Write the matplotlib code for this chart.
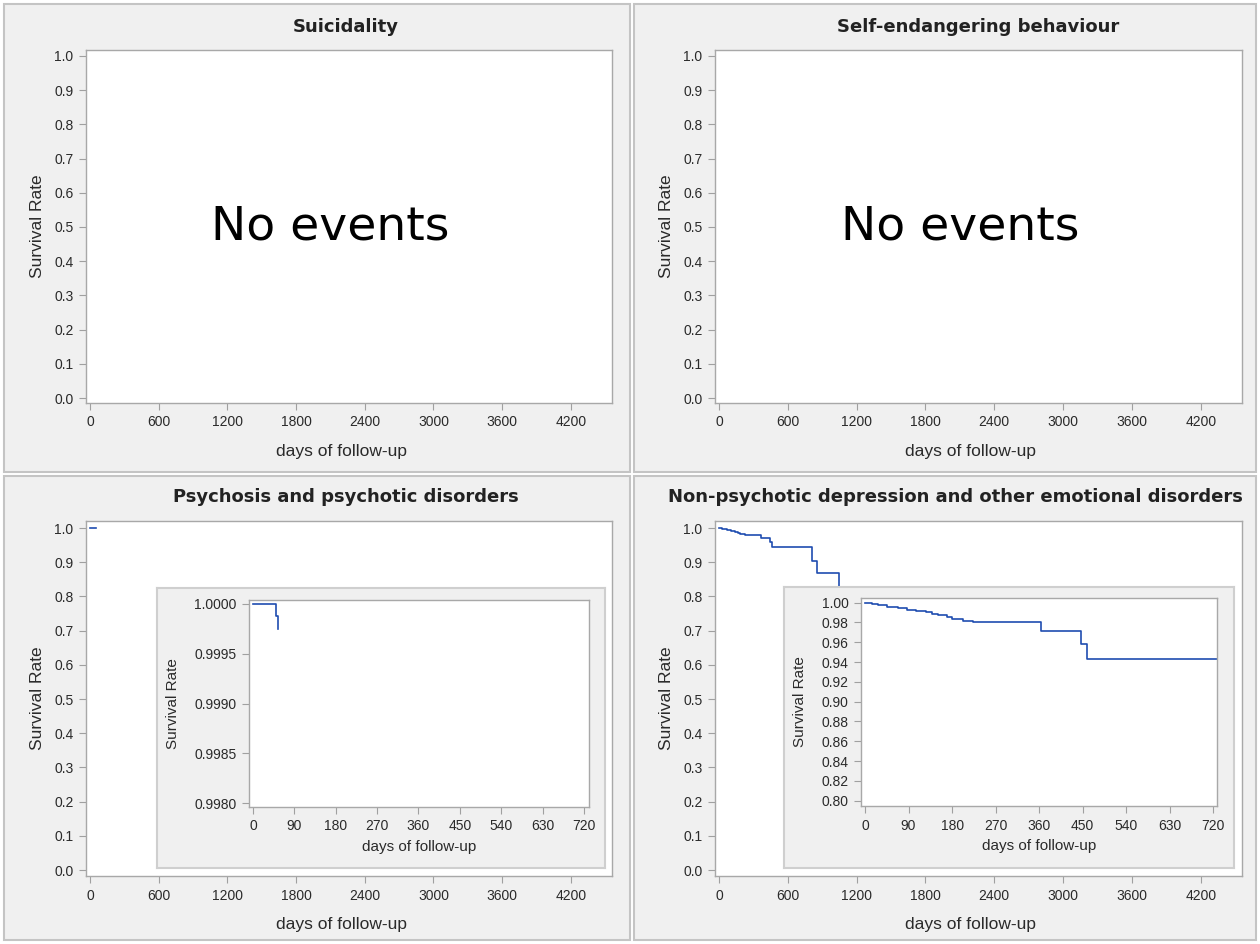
import numpy as np
import matplotlib
matplotlib.use("Agg")
import matplotlib.pyplot as plt
from matplotlib.patches import Rectangle

# Kaplan-Meier estimates per outcome (days of follow-up, survival rate)
psych_days = [0, 51, 55]
psych_surv = [1.0, 0.99988, 0.99975]

dep_days = [0, 14, 26, 46, 69, 86, 105, 127, 138, 150, 169, 179, 203, 224,
            363, 447, 459, 812, 856, 1048]
dep_surv = [1.0, 0.99865, 0.9973, 0.9960, 0.9943, 0.9929, 0.9916, 0.9902,
            0.9889, 0.9875, 0.9859, 0.9832, 0.9815, 0.9801, 0.9717, 0.958,
            0.9431, 0.9035, 0.868, 0.80]

titles = ["Suicidality", "Self-endangering behaviour",
          "Psychosis and psychotic disorders",
          "Non-psychotic depression and other emotional disorders"]

main_xticks = [0, 600, 1200, 1800, 2400, 3000, 3600, 4200]
main_yticks = [0.0, 0.1, 0.2, 0.3, 0.4, 0.5, 0.6, 0.7, 0.8, 0.9, 1.0]
inset_xticks = [0, 90, 180, 270, 360, 450, 540, 630, 720]
psych_yticks = [0.9980, 0.9985, 0.9990, 0.9995, 1.0000]
dep_yticks = [0.80, 0.82, 0.84, 0.86, 0.88, 0.90, 0.92, 0.94, 0.96, 0.98, 1.00]

W, H = 1260, 944
BG = "#f0f0f0"
LINE = "#1f4db0"
TICKFONT = "Liberation Sans"
TXT = "#2a2a2a"

fig = plt.figure(figsize=(W / 100, H / 100), dpi=100)
fig.patch.set_facecolor("white")


def px_rect(x0, y0, x1, y1):
    return [x0 / W, 1 - y1 / H, (x1 - x0) / W, (y1 - y0) / H]


def style_axes(ax, xticks, yticks, yfmt, fs=10):
    for s in ax.spines.values():
        s.set_color("#a8a8a8")
        s.set_linewidth(1.0)
    ax.set_xticks(xticks)
    ax.set_yticks(yticks)
    ax.set_yticklabels([yfmt.format(v) for v in yticks])
    ax.tick_params(direction="out", length=5, width=0.8, color="#a0a0a0",
                   labelcolor=TXT, labelsize=fs, pad=4)
    for lab in ax.get_xticklabels() + ax.get_yticklabels():
        lab.set_fontfamily(TICKFONT)


# panel backgrounds
panels = [(4, 4, 630, 472), (634, 4, 1256, 472),
          (4, 476, 630, 940), (634, 476, 1256, 940)]
for x0, y0, x1, y1 in panels:
    r = px_rect(x0, y0, x1, y1)
    fig.patches.append(Rectangle((r[0], r[1]), r[2], r[3], transform=fig.transFigure,
                                 facecolor=BG, edgecolor="#c4c4c4", lw=1.5, zorder=-1))

boxes = [(86, 50, 612, 403), (715, 50, 1242, 403),
         (86, 521, 612, 876), (715, 521, 1242, 876)]
title_x = [346, 978, 346, 955]

axes = []
for i, (x0, y0, x1, y1) in enumerate(boxes):
    ax = fig.add_axes(px_rect(x0, y0, x1, y1))
    ax.set_xlim(-35, 4560)
    if i < 2:
        ax.set_ylim(-0.0146, 1.0175)
    else:
        ax.set_ylim(-0.0175, 1.0205)
    style_axes(ax, main_xticks, main_yticks, "{:.1f}")
    ax.set_xlabel("days of follow-up", fontsize=12.5, family=TICKFONT, color=TXT)
    ax.set_ylabel("Survival Rate", fontsize=12.5, family=TICKFONT, color=TXT)
    ax.xaxis.set_label_coords(0.485, -0.115)
    ax.yaxis.set_label_coords(-0.078, 0.5)
    fig.text(title_x[i] / W, 1 - 27 / H if i < 2 else 1 - 497 / H, titles[i],
             ha="center", va="center", fontsize=13, fontweight="bold",
             family="DejaVu Sans", color="#222222")
    axes.append(ax)

# no events for the first two outcomes
for ax in axes[:2]:
    ax.text(2100, 0.5, "No events", ha="center", va="center",
            fontsize=34, family="DejaVu Sans", color="black")

# full follow-up curves
axes[2].step(psych_days, psych_surv, where="post", color=LINE, lw=1.2)
axes[3].step(dep_days, dep_surv, where="post", color=LINE, lw=1.2)

# zoomed insets (first two years)
insets = [
    ((157, 588, 605, 868), (249, 600, 589, 807), (-8.7, 731),
     (0.99796, 1.00004), psych_yticks, "{:.4f}", psych_days, psych_surv, 180),
    ((784, 587, 1234, 868), (861, 598, 1217, 806), (-8.3, 727.6),
     (0.7946, 1.0047), dep_yticks, "{:.2f}", dep_days, dep_surv, 807),
]
for frame, box, xl, yl, yt, fmt, d, s, ylab_x in insets:
    fax = fig.add_axes(px_rect(*frame), zorder=2)
    fax.set_facecolor(BG)
    fax.set_xticks([])
    fax.set_yticks([])
    for sp in fax.spines.values():
        sp.set_color("#cfcfcf")
        sp.set_linewidth(1.5)
    iax = fig.add_axes(px_rect(*box), zorder=3)
    iax.set_xlim(*xl)
    iax.set_ylim(*yl)
    style_axes(iax, inset_xticks, yt, fmt)
    iax.step(d, s, where="post", color=LINE, lw=1.2)
    iax.set_xlabel("days of follow-up", fontsize=11, family=TICKFONT, color=TXT)
    iax.set_ylabel("Survival Rate", fontsize=11, family=TICKFONT, color=TXT)
    bw = box[2] - box[0]
    iax.yaxis.set_label_coords((ylab_x - box[0]) / bw, 0.5)
    iax.xaxis.set_label_coords(0.5, -0.16)

fig.savefig("out.png", dpi=100, facecolor=fig.get_facecolor())
